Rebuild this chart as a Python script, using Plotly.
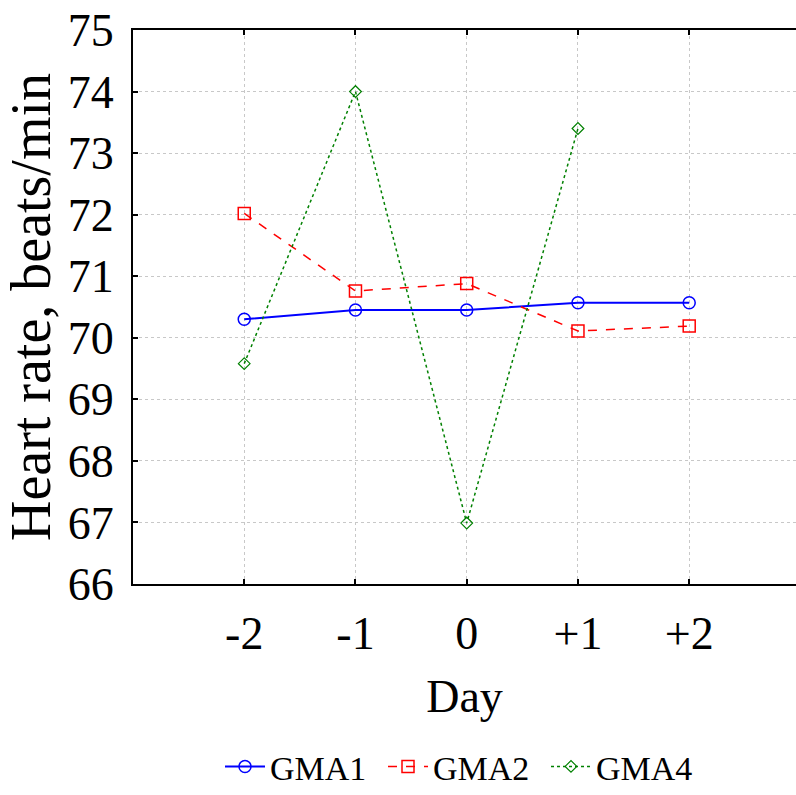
import plotly.graph_objects as go

days = [-2, -1, 0, 1, 2]
day_labels = ["-2", "-1", "0", "+1", "+2"]
gma1 = [70.30, 70.45, 70.45, 70.57, 70.57]
gma2 = [72.02, 70.76, 70.88, 70.11, 70.19]
gma4 = [69.58, 74.00, 66.99, 73.40, None]
y_ticks = list(range(66, 76))

FONT = "Liberation Serif"

fig = go.Figure()
fig.add_trace(go.Scatter(
    x=days, y=gma1, name="GMA1", mode="lines+markers",
    line=dict(color="#0000ff", width=2),
    marker=dict(symbol="circle-open", size=12, color="#0000ff", line=dict(width=1.5)),
))
fig.add_trace(go.Scatter(
    x=days, y=gma2, name="GMA2", mode="lines+markers",
    line=dict(color="#ff0000", width=1.5, dash="dash"),
    marker=dict(symbol="square-open", size=12, color="#ff0000", line=dict(width=1.5)),
))
fig.add_trace(go.Scatter(
    x=days, y=gma4, name="GMA4", mode="lines+markers",
    line=dict(color="#008000", width=1.5, dash="dot"),
    marker=dict(symbol="diamond-open", size=9, color="#008000", line=dict(width=1.2)),
))

fig.update_layout(
    width=796, height=795,
    margin=dict(l=133, r=0, t=30, b=211, autoexpand=False),
    plot_bgcolor="white", paper_bgcolor="white",
    font=dict(family=FONT, color="black"),
    showlegend=True,
    legend=dict(orientation="h", x=0.5, xref="paper", xanchor="center",
                y=-0.33, yanchor="middle", font=dict(size=34, family=FONT),
                itemwidth=40, tracegroupgap=0, entrywidth=108),
)
fig.update_xaxes(
    range=[-3, 2.96], tickvals=days, ticktext=day_labels,
    showline=True, linecolor="black", linewidth=2, mirror="ticks",
    ticks="inside", ticklen=5, tickwidth=1.5, tickcolor="black",
    showgrid=True, gridcolor="#c8c8c8", griddash="dot", gridwidth=1,
    zeroline=False,
    tickfont=dict(size=46, family=FONT), ticklabelstandoff=8,
    title=dict(text="Day", font=dict(size=46, family=FONT), standoff=22),
)
fig.update_yaxes(
    range=[66, 75], tickvals=y_ticks,
    showline=True, linecolor="black", linewidth=2, mirror=False,
    ticks="inside", ticklen=5, tickwidth=1.5, tickcolor="black",
    showgrid=True, gridcolor="#c8c8c8", griddash="dot", gridwidth=1,
    zeroline=False,
    tickfont=dict(size=46, family=FONT), ticklabelstandoff=8,
    title=dict(text="Heart rate, beats/min", font=dict(size=56, family=FONT), standoff=12),
)

fig.write_html("out.html")
